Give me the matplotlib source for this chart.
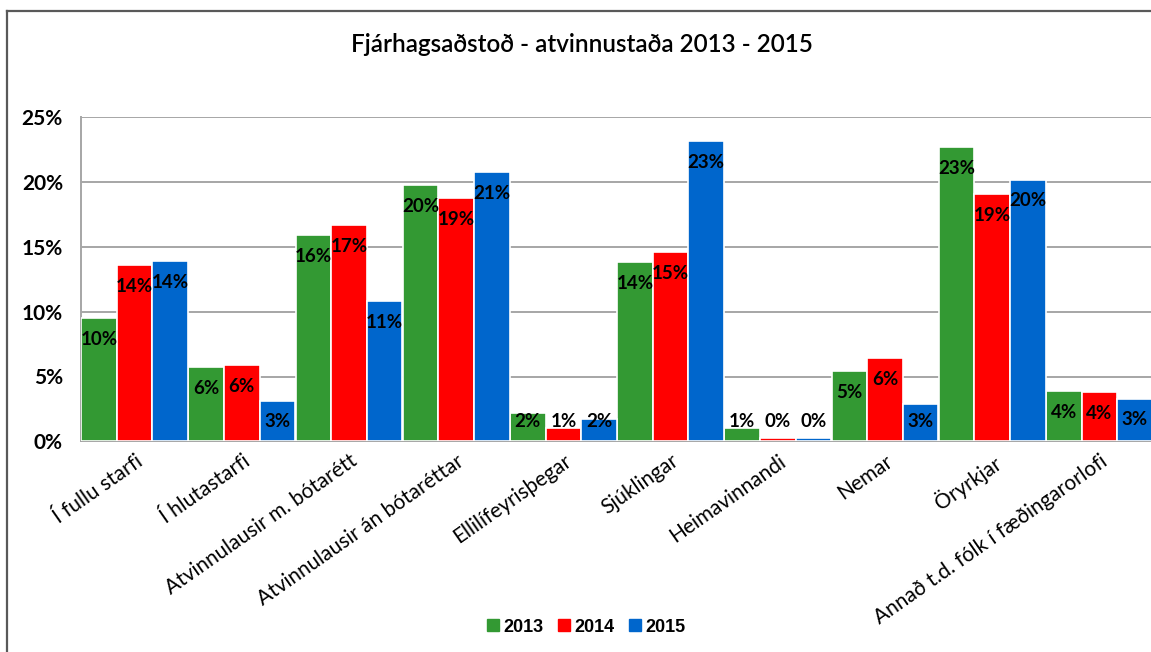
import numpy as np
import matplotlib
matplotlib.use('Agg')
import matplotlib.pyplot as plt
from matplotlib.lines import Line2D

categories = ['Í fullu starfi', 'Í hlutastarfi', 'Atvinnulausir m. bótarétt',
              'Atvinnulausir án bótaréttar', 'Ellilífeyrisþegar', 'Sjúklingar',
              'Heimavinnandi', 'Nemar', 'Öryrkjar', 'Annað t.d. fólk í fæðingarorlofi']
years = ['2013', '2014', '2015']
v2013 = [9.5, 5.7, 15.9, 19.8, 2.2, 13.8, 1.0, 5.45, 22.7, 3.9]
v2014 = [13.6, 5.9, 16.7, 18.8, 1.0, 14.6, 0.25, 6.4, 19.1, 3.8]
v2015 = [13.9, 3.1, 10.8, 20.8, 1.7, 23.2, 0.25, 2.9, 20.2, 3.3]
colors = ['#339933', '#FF0000', '#0066CC']

W, H = 1151, 652
fig = plt.figure(figsize=(W/100, H/100), dpi=100)
ax = fig.add_axes([81/W, (H-441.3)/H, (1153-81)/W, 324/H])

FONT = ['Lato', 'DejaVu Sans']
x = np.arange(len(categories))
slot = 0.332
for k, (vals, c) in enumerate(zip([v2013, v2014, v2015], colors)):
    pos = x + (k-1)*slot
    ax.bar(pos, vals, width=slot, color=c, edgecolor='white', linewidth=1.2, zorder=3)
    for px, v in zip(pos, vals):
        ly = max(v - 1.65, 1.55)
        ax.text(px, ly, f'{v:.0f}%', ha='center', va='center', fontsize=13.5,
                fontweight='bold', family=FONT, zorder=4)

ax.set_xlim(-0.5, 9.5)
ax.set_ylim(0, 25)
ax.set_yticks([0, 5, 10, 15, 20, 25])
ax.set_yticklabels([f'{t}%' for t in [0, 5, 10, 15, 20, 25]], fontsize=15,
                   fontweight='bold', family=FONT)
ax.tick_params(axis='y', length=0, pad=13)
ax.tick_params(axis='x', length=0, pad=7)
ax.set_xticks(x)
ax.set_xticklabels(categories, rotation=35, ha='right', va='top', rotation_mode='anchor',
                   fontsize=15, family=FONT)
ax.grid(axis='y', color='#A6A6A6', linewidth=1.4, zorder=0)
for s in ['top', 'right']:
    ax.spines[s].set_visible(False)
for s in ['left', 'bottom']:
    ax.spines[s].set_color('#A6A6A6')
    ax.spines[s].set_linewidth(1.4)

fig.text(582/W, 1-45/H, 'Fjárhagsaðstoð - atvinnustaða 2013 - 2015', ha='center',
         va='center', fontsize=17.5, fontweight='semibold', family=FONT)

handles = [Line2D([], [], marker='s', linestyle='none', color=c, markersize=8.6) for c in colors]
fig.legend(handles, years, loc='center', bbox_to_anchor=(586/W, 1-627/H), ncol=3,
           frameon=False, handlelength=0.7, handletextpad=0.2, columnspacing=0.8,
           prop={'family': ['Liberation Sans', 'DejaVu Sans'], 'weight': 'bold', 'size': 13})

# frame lines, left and top
bc = '#595959'
fig.add_artist(Line2D([7/W, 7/W], [0, 1-11/H], color=bc, linewidth=1.6))
fig.add_artist(Line2D([7/W, 1], [1-11/H, 1-11/H], color=bc, linewidth=1.6))

fig.savefig('out.png', dpi=100)
